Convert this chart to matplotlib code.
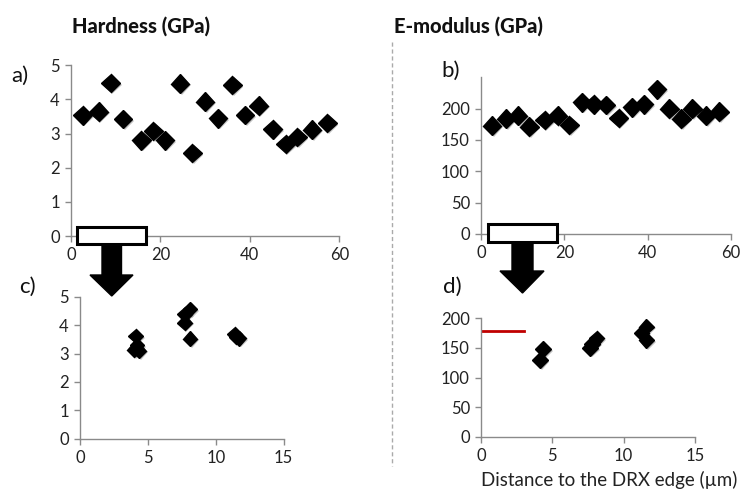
import matplotlib
matplotlib.use("Agg")
import matplotlib.pyplot as plt
import matplotlib.patheffects as pe
from matplotlib.patches import Rectangle, Polygon
from matplotlib.lines import Line2D

plt.rcParams['font.family'] = ['Lato', 'DejaVu Sans']

# Line scans across the sample (distance in µm)
scan_dist = [2.6, 6.2, 8.9, 11.6, 15.7, 18.4, 21.0, 24.4, 27.1, 30.0,
             32.9, 36.1, 38.9, 42.0, 45.1, 48.0, 50.6, 53.9, 57.3]
scan_hardness = [3.53, 3.64, 4.48, 3.43, 2.80, 3.08, 2.80, 4.46, 2.43, 3.93,
                 3.45, 4.42, 3.54, 3.82, 3.12, 2.69, 2.90, 3.11, 3.31]
scan_dist_e = [2.6, 6.0, 8.9, 11.6, 15.3, 18.4, 21.2, 24.2, 27.0, 30.0,
               33.0, 36.2, 39.1, 42.2, 45.2, 48.1, 50.7, 54.0, 57.2]
scan_modulus = [173, 184, 189, 171, 182, 189, 174, 210, 207, 206,
                185, 202, 207, 231, 200, 184, 200, 189, 195]

# Close-up measurements near the DRX edge
near_dist_h = [4.1, 4.2, 4.0, 4.35, 7.7, 7.7, 8.1, 8.1, 11.4, 11.5, 11.7]
near_hardness = [3.62, 3.30, 3.13, 3.10, 4.08, 4.38, 4.57, 3.52, 3.68, 3.58, 3.53]
near_dist_e = [4.13, 4.37, 7.65, 7.8, 8.1, 11.6, 11.26, 11.6]
near_modulus = [129, 148, 150, 157, 166, 186, 175, 163]

# Reference modulus level
ref_modulus = 178
ref_span = [0, 3]

W, H = 740, 491
fig = plt.figure(figsize=(W / 100, H / 100), dpi=100)


def px_axes(x0, x1, y_top, y_bot):
    return fig.add_axes([x0 / W, 1 - y_bot / H, (x1 - x0) / W, (y_bot - y_top) / H])


axis_grey = '#8a8a8a'
shadow = [pe.SimplePatchShadow(offset=(1.2, -1.2), shadow_rgbFace='#777777', alpha=0.45),
          pe.Normal()]


def style(ax, xlim, ylim, xticks, yticks):
    ax.set_xlim(*xlim)
    ax.set_ylim(*ylim)
    ax.set_xticks(xticks)
    ax.set_yticks(yticks)
    for s in ('top', 'right'):
        ax.spines[s].set_visible(False)
    for s in ('left', 'bottom'):
        ax.spines[s].set_color(axis_grey)
        ax.spines[s].set_linewidth(1.0)
    ax.tick_params(direction='out', length=4, width=1.0, color=axis_grey,
                   labelsize=12, labelcolor='#222222', pad=4)
    ax.patch.set_alpha(0)


ax_a = px_axes(71, 339.3, 65.3, 236)
style(ax_a, (0, 60), (0, 5), [0, 20, 40, 60], [0, 1, 2, 3, 4, 5])
ax_a.plot(scan_dist, scan_hardness, 'D', color='black', ms=9.5, path_effects=shadow)

ax_b = px_axes(481, 731, 77.3, 234)
style(ax_b, (0, 60), (0, 250), [0, 20, 40, 60], [0, 50, 100, 150, 200])
ax_b.plot(scan_dist_e, scan_modulus, 'D', color='black', ms=9.5, path_effects=shadow)

ax_c = px_axes(80, 283.7, 296.7, 438.7)
style(ax_c, (0, 15), (0, 5), [0, 5, 10, 15], [0, 1, 2, 3, 4, 5])
ax_c.plot(near_dist_h, near_hardness, 'D', color='black', ms=7.5, path_effects=shadow)

ax_d = px_axes(481, 695, 318.3, 436.7)
style(ax_d, (0, 15), (0, 200), [0, 5, 10, 15], [0, 50, 100, 150, 200])
ax_d.plot(ref_span, [ref_modulus, ref_modulus], color='#c00000', lw=2.0)
ax_d.plot(near_dist_e, near_modulus, 'D', color='black', ms=8, path_effects=shadow)

fig.text(737 / W, 1 - 480 / H, 'Distance to the DRX edge (µm)', ha='right', va='center',
         fontsize=13.5, color='#222222')

# Column titles
fig.text(141.5 / W, 1 - 26 / H, 'Hardness (GPa)', ha='center', va='center',
         fontsize=14.5, fontweight='black', color='#111111')
fig.text(468 / W, 1 - 26 / H, 'E-modulus (GPa)', ha='center', va='center',
         fontsize=14.5, fontweight='black', color='#111111')

# Panel letters
for lx, ly, t in [(20, 76, 'a)'), (451, 71, 'b)'), (27, 287, 'c)'), (452, 287, 'd)')]:
    fig.text(lx / W, 1 - ly / H, t, ha='center', va='center', fontsize=16, color='#111111')

# Dashed divider between the two columns
fig.add_artist(Line2D([392 / W, 392 / W], [1 - 42 / H, 1 - 466 / H],
                      color='#aaaaaa', lw=1.0, ls=(0, (3, 2))))


def zoom_marker(rx0, rx1, ry0, ry1, sx0, sx1, hx0, hx1, hy, tip_y):
    def f(x, y):
        return (x / W, 1 - y / H)
    shaft_mid = (sx0 + sx1) / 2
    arrow = Polygon([f(sx0, ry1), f(sx1, ry1), f(sx1, hy), f(hx1, hy),
                     f(shaft_mid, tip_y), f(hx0, hy), f(sx0, hy)],
                    closed=True, transform=fig.transFigure, facecolor='black',
                    edgecolor='black', lw=1.0, zorder=5)
    fig.add_artist(arrow)
    box = Rectangle(f(rx0, ry1), (rx1 - rx0) / W, (ry1 - ry0) / H,
                    transform=fig.transFigure, facecolor='white', edgecolor='black',
                    lw=2.2, zorder=6)
    fig.add_artist(box)


zoom_marker(77, 146, 227, 244, 102, 121.5, 90, 133, 275, 296)
zoom_marker(488, 557, 224, 242, 512, 533, 500, 544, 271, 293)

fig.savefig('out.png', dpi=100, facecolor='white')
